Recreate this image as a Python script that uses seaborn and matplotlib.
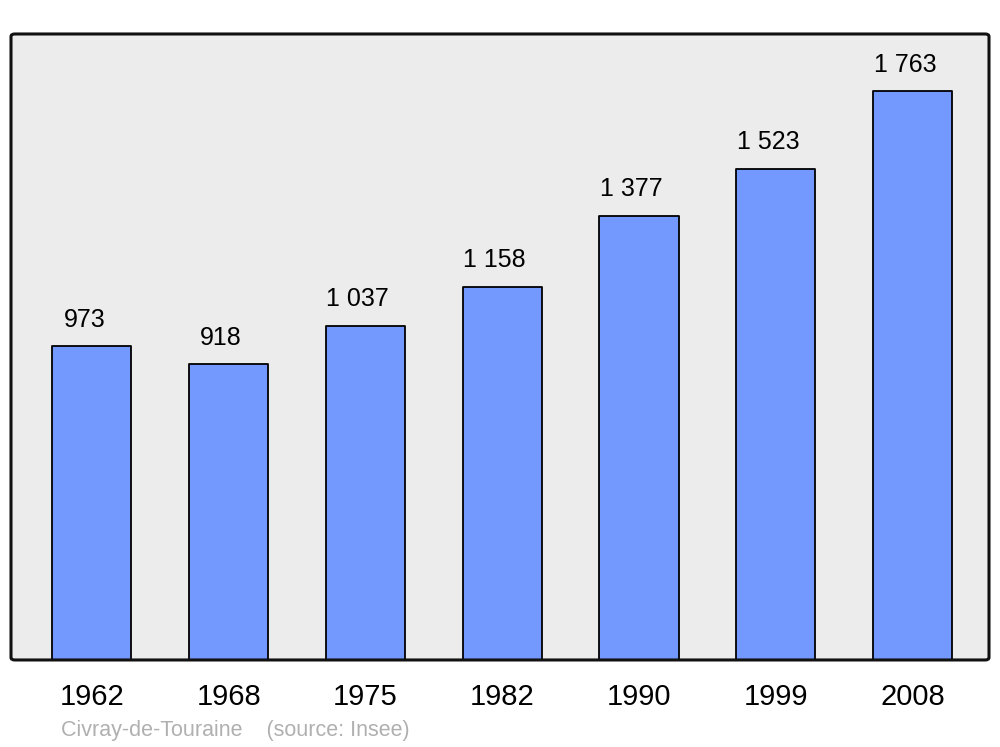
import numpy as np
import pandas as pd
import matplotlib
matplotlib.use("Agg")
import matplotlib.pyplot as plt
import seaborn as sns
from matplotlib.patches import FancyBboxPatch

years = ["1962", "1968", "1975", "1982", "1990", "1999", "2008"]
population = [973, 918, 1037, 1158, 1377, 1523, 1763]
value_labels = ["973", "918", "1 037", "1 158", "1 377", "1 523", "1 763"]
source_text = "Civray-de-Touraine    (source: Insee)"

sns.set_theme(style="white")
plt.rcParams['font.family'] = ['Liberation Sans', 'DejaVu Sans']

df = pd.DataFrame({"year": years, "pop": population})

fig = plt.figure(figsize=(10, 7.47), dpi=100)
ax = fig.add_axes([0.011, 0.1165, 0.978, 0.838])
ax.set_facecolor("#ececec")

sns.barplot(data=df, x="year", y="pop", color="#7399ff", saturation=1,
            width=0.578, edgecolor="black", linewidth=1.3, ax=ax)
for p in ax.patches:
    p.set_joinstyle("round")

for p, lab in zip(ax.patches, value_labels):
    ax.annotate(lab, (p.get_x() + p.get_width() / 2, p.get_height()),
                xytext=(-5.5, 19), textcoords="offset points",
                ha="center", va="center", fontsize=18, color="black")

ax.set_xlim(-0.592, 6.559)
ax.set_ylim(0, 1941)
ax.set_yticks([])
ax.set_xlabel("")
ax.set_ylabel("")
ax.tick_params(axis="x", length=0, pad=16.5, labelsize=21, colors="black")
for t in ax.get_xticklabels():
    t.set_x(t.get_position()[0])

for s in ax.spines.values():
    s.set_visible(False)
frame = FancyBboxPatch((0, 0), 1, 1, boxstyle="round,pad=0,rounding_size=0.004",
                       transform=ax.transAxes, facecolor="none",
                       edgecolor="#111111", linewidth=2.2, clip_on=False, zorder=5)
ax.add_patch(frame)

fig.text(0.061, 0.0215, source_text, fontsize=15.5, color="#b0b0b0",
         ha="left", va="center")

fig.savefig("out.png", dpi=100)
